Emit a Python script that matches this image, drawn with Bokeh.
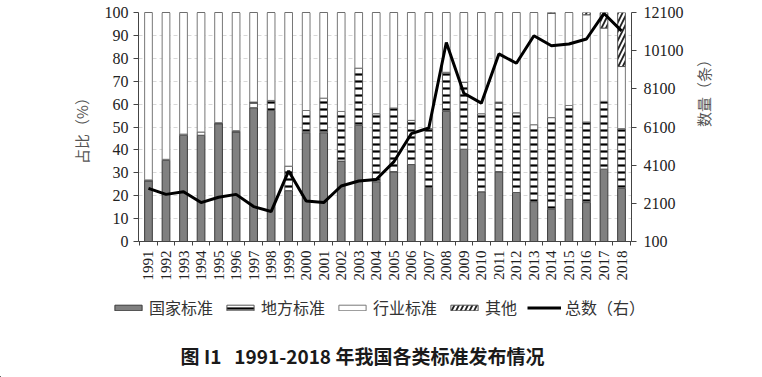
from bokeh.plotting import figure
from bokeh.models import (Range1d, LinearAxis, FixedTicker, Legend, LegendItem, Label,
                          ColumnDataSource)
from bokeh.embed import file_html
from bokeh.resources import INLINE
import math

years = [str(y) for y in range(1991, 2019)]
national = [26.4, 35.4, 46.4, 46.4, 51.4, 47.8, 58.4, 57.2, 22.2, 47.5, 47.5, 35.1, 50.7, 26.1,
            30.4, 33.6, 23.6, 56.8, 40.3, 21.7, 30.4, 21.4, 17.4, 14.1, 18.4, 17.0, 31.6, 23.2]
local = [0.5, 0.5, 0.5, 1.4, 0.5, 0.6, 2.5, 4.4, 10.7, 9.7, 15.1, 21.7, 25.0, 29.7,
         27.9, 19.3, 25.7, 17.1, 29.3, 34.1, 30.5, 34.8, 33.6, 40.0, 41.0, 35.2, 29.6, 26.1]
other = [0, 0, 0, 0, 0, 0, 0, 0, 0, 0, 0, 0, 0, 0,
         0, 0, 0, 0, 0, 0, 0, 0, 0, 0.4, 0, 1.0, 6.8, 23.6]
industry = [round(100 - n - l - o, 1) for n, l, o in zip(national, local, other)]
total = [2880, 2570, 2710, 2140, 2420, 2570, 1930, 1670, 3800, 2220, 2140, 3010, 3270, 3350,
         4270, 5750, 6050, 10530, 7870, 7350, 9930, 9440, 10880, 10360, 10450, 10710, 12050, 11140]
left_ticks = list(range(0, 101, 10))
right_ticks = list(range(100, 12101, 2000))
series_names = ["国家标准", "地方标准", "行业标准", "其他", "总数（右）"]
title_text = "图 I1\u00a0\u00a0\u00a01991-2018 年我国各类标准发布情况"

x = list(range(len(years)))
b1 = [0] * len(x)
t1 = national
t2 = [a + b for a, b in zip(t1, local)]
t3 = [a + b for a, b in zip(t2, industry)]
t4 = [a + b for a, b in zip(t3, other)]
src = ColumnDataSource(dict(x=x, b1=b1, t1=t1, t2=t2, t3=t3, t4=t4, total=total))

serif = "Liberation Serif"
cjk = "Noto Sans CJK SC"

styles = [
    dict(fill_color="#808080", line_color="#3a3a3a", line_width=1),
    dict(fill_color="white", line_color="#555555", line_width=1,
         hatch_pattern="-", hatch_color="black", hatch_weight=2.2, hatch_scale=7),
    dict(fill_color="white", line_color="#777777", line_width=1),
    dict(fill_color="white", line_color="#555555", line_width=1,
         hatch_pattern="/", hatch_color="#222222", hatch_weight=1.8, hatch_scale=9),
]
line_style = dict(line_color="black", line_width=3)

p = figure(frame_width=493, frame_height=229, output_backend="svg", toolbar_location=None,
           x_range=Range1d(-0.57, 27.57), y_range=Range1d(0, 100),
           min_border_left=138, min_border_right=131, min_border_top=12, min_border_bottom=49)
p.extra_y_ranges = {"cnt": Range1d(100, 12100)}
p.outline_line_color = None

W = 0.44
p.vbar(x="x", bottom="b1", top="t1", width=W, source=src, **styles[0])
p.vbar(x="x", bottom="t1", top="t2", width=W, source=src, **styles[1])
p.vbar(x="x", bottom="t2", top="t3", width=W, source=src, **styles[2])
p.vbar(x="x", bottom="t3", top="t4", width=W, source=src, **styles[3])
p.line(x="x", y="total", source=src, y_range_name="cnt", **line_style)

# x axis
xa = p.xaxis[0]
xa.ticker = FixedTicker(ticks=x, minor_ticks=[i - 0.5 for i in range(len(x) + 1)])
xa.major_label_overrides = {i: y for i, y in enumerate(years)}
xa.major_label_orientation = math.pi / 2
xa.major_tick_line_color = None
xa.minor_tick_line_color = "#444444"
xa.minor_tick_out = 4
xa.minor_tick_in = 0
xa.axis_line_color = "#444444"
xa.major_label_text_font = serif
xa.major_label_text_font_size = "15px"
xa.major_label_text_color = "#222222"
xa.major_label_standoff = 3

# left axis
ya = p.yaxis[0]
ya.ticker = FixedTicker(ticks=left_ticks)
ya.minor_tick_line_color = None
ya.major_tick_out = 5
ya.major_tick_in = 0
ya.axis_line_color = "#444444"
ya.major_tick_line_color = "#444444"
ya.major_label_text_font = serif
ya.major_label_text_font_size = "16px"
ya.major_label_text_color = "#222222"
ya.major_label_standoff = 5
ya.axis_label = "占比（%）"
ya.axis_label_text_font = cjk
ya.axis_label_text_font_style = "normal"
ya.axis_label_text_font_size = "15px"
ya.axis_label_text_color = "#555555"
ya.axis_label_standoff = 10

ra = LinearAxis(y_range_name="cnt", ticker=FixedTicker(ticks=right_ticks))
ra.minor_tick_line_color = None
ra.major_tick_out = 5
ra.major_tick_in = 0
ra.axis_line_color = "#444444"
ra.major_tick_line_color = "#444444"
ra.major_label_text_font = serif
ra.major_label_text_font_size = "16px"
ra.major_label_text_color = "#222222"
ra.major_label_standoff = 7
ra.axis_label = "数量（条）"
ra.axis_label_orientation = math.pi / 2
ra.axis_label_text_font = cjk
ra.axis_label_text_font_style = "normal"
ra.axis_label_text_font_size = "15px"
ra.axis_label_text_color = "#555555"
ra.axis_label_standoff = 17
p.add_layout(ra, "right")

p.xgrid.grid_line_color = None
p.ygrid.ticker = FixedTicker(ticks=left_ticks)
p.ygrid.grid_line_color = "#d8d8d8"
p.ygrid.grid_line_dash = "4 3"

# lower strip (separate root): legend and caption
H2 = 87
p2 = figure(width=762, height=H2, output_backend="svg", toolbar_location=None,
            x_range=Range1d(0, 762), y_range=Range1d(0, H2),
            x_axis_location=None, y_axis_location=None, min_border=0)
p2.outline_line_color = None
p2.grid.grid_line_color = None
dummy = ColumnDataSource(dict(x=[-1000, -999], t=[1, 1]))
rs = [p2.vbar(x="x", top="t", width=1, source=dummy, **s) for s in styles]
rs.append(p2.line(x="x", y="t", source=dummy, **line_style))

legend = Legend(items=[LegendItem(label=n, renderers=[r]) for n, r in zip(series_names, rs)],
                orientation="horizontal", location=(111, 58))
legend.glyph_width = 34
legend.glyph_height = 7
legend.label_height = 18
legend.label_text_font = cjk
legend.label_text_font_size = "16px"
legend.label_text_color = "#333333"
legend.label_standoff = 4
legend.spacing = 10
legend.padding = 0
legend.margin = 0
legend.border_line_color = None
legend.background_fill_alpha = 0
p2.add_layout(legend)

p2.add_layout(Label(x=362, y=22, text=title_text, text_align="center", text_baseline="middle",
                    text_font=cjk, text_font_size="19px", text_font_style="bold",
                    text_color="#1a1a1a"))

open("out.html", "w").write(file_html([p, p2], INLINE))
